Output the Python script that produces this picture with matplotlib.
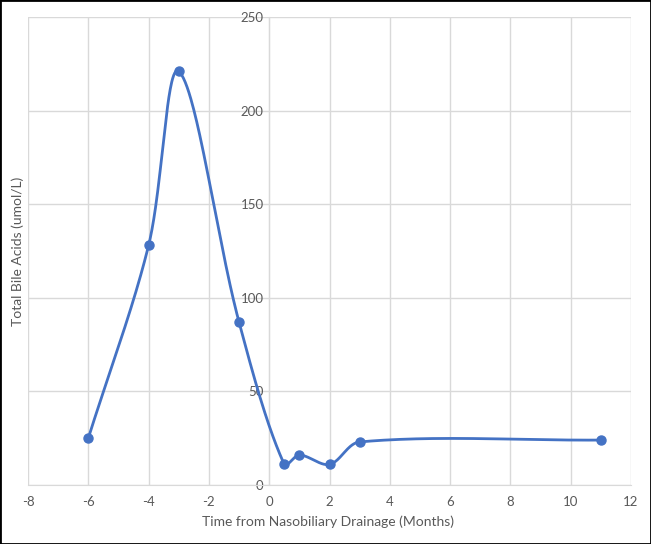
import numpy as np
import matplotlib
matplotlib.use("Agg")
import matplotlib.pyplot as plt
from matplotlib.patches import Rectangle

months = [-6, -4, -3, -1, 0.5, 1, 2, 3, 11]
bile_acids = [25, 128, 221, 87, 11, 16, 11, 23, 24]
x_ticks = [-8, -6, -4, -2, 0, 2, 4, 6, 8, 10, 12]
y_ticks = [0, 50, 100, 150, 200, 250]

def excel_smooth(ax, xs, ys, n=60):
    # compute in display space so that curvature matches the rendered chart
    P = ax.transData.transform(np.column_stack([xs, ys]).astype(float))
    out = []
    m = len(P)
    for i in range(m - 1):
        p0 = P[i - 1] if i > 0 else P[i]
        p1 = P[i]
        p2 = P[i + 1]
        p3 = P[i + 2] if i + 2 < m else P[i + 1]
        d01 = np.linalg.norm(p1 - p0)
        d12 = np.linalg.norm(p2 - p1)
        d23 = np.linalg.norm(p3 - p2)
        t1 = (p2 - p0)
        t2 = (p3 - p1)
        c1 = p1 + t1 * (d12 / (d01 + d12) if d01 + d12 > 0 else 0) / 3.0
        c2 = p2 - t2 * (d12 / (d12 + d23) if d12 + d23 > 0 else 0) / 3.0
        t = np.linspace(0, 1, n)[:, None]
        seg = ((1 - t) ** 3) * p1 + 3 * ((1 - t) ** 2) * t * c1 + 3 * (1 - t) * t ** 2 * c2 + t ** 3 * p2
        out.append(seg if i == 0 else seg[1:])
    s = ax.transData.inverted().transform(np.vstack(out))
    return s[:, 0], s[:, 1]

plt.rcParams['font.family'] = ['Lato', 'DejaVu Sans']
plt.rcParams['axes.unicode_minus'] = False
fig = plt.figure(figsize=(6.51, 5.44), dpi=100)
ax = fig.add_axes([28 / 651, 1 - 485 / 544, 603 / 651, 468 / 544])

grid_c = '#d9d9d9'
ax.set_xlim(-8, 12)
ax.set_ylim(0, 250)
ax.set_xticks(x_ticks)
ax.set_yticks(y_ticks)
ax.grid(True, color=grid_c, linewidth=1)
ax.set_axisbelow(True)
for s in ['top', 'right']:
    ax.spines[s].set_visible(False)
ax.spines['left'].set_position(('data', 0))
ax.spines['left'].set_color(grid_c)
ax.spines['bottom'].set_color(grid_c)
ax.tick_params(axis='both', length=0, colors='#595959', labelsize=9.5)
ax.tick_params(axis='x', pad=8)
ax.tick_params(axis='y', pad=4)

sx, sy = excel_smooth(ax, months, bile_acids)
ax.plot(sx, sy, color='#4472C4', linewidth=2, solid_capstyle='round', zorder=3)
ax.plot(months, bile_acids, 'o', color='#4472C4', markersize=6.5, zorder=4, clip_on=False)

fig.text(328 / 651, 1 - 522 / 544, 'Time from Nasobiliary Drainage (Months)',
         ha='center', va='center', color='#595959', fontsize=10)
fig.text(18 / 651, 1 - 251 / 544, 'Total Bile Acids (umol/L)', rotation=90,
         ha='center', va='center', color='#595959', fontsize=10)

fig.patches.append(Rectangle((0, 0), 1, 1, transform=fig.transFigure, fill=False,
                             edgecolor='black', linewidth=2))
fig.savefig('out.png', dpi=100)
